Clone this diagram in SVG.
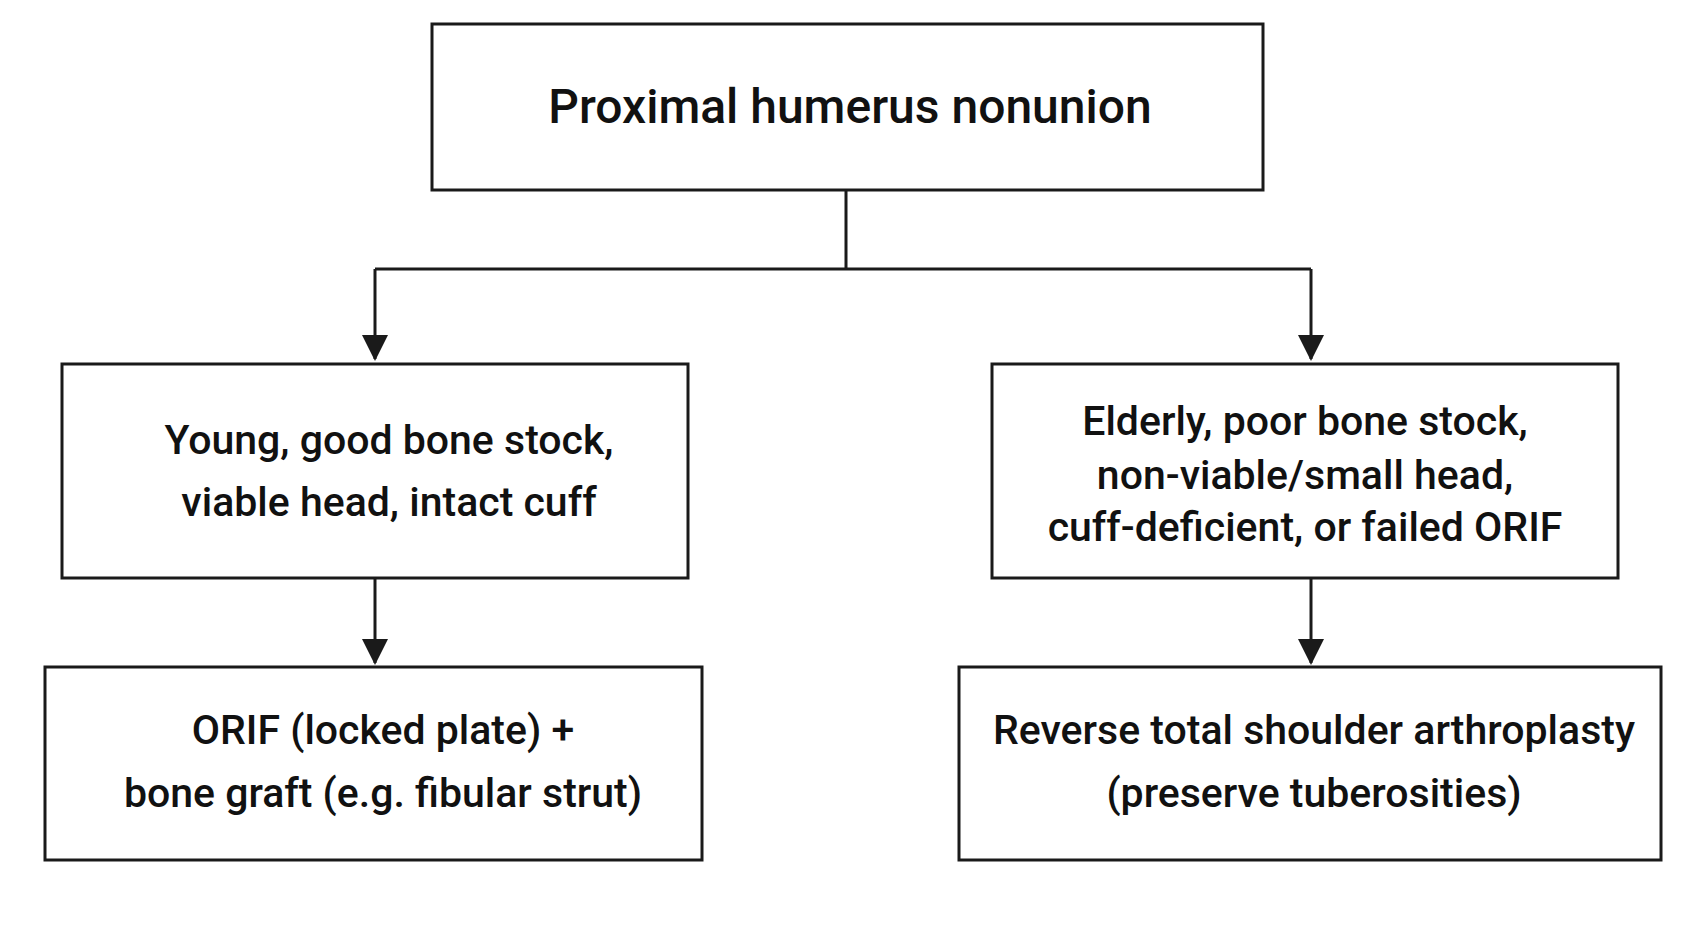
<svg xmlns="http://www.w3.org/2000/svg" width="1693" height="929" viewBox="0 0 1693 929">
<style>
rect{fill:#fff;stroke:#1a1a1a;stroke-width:3}
text{font-family:Roboto,"Liberation Sans",sans-serif;font-weight:500;fill:#111;text-anchor:middle;font-size:41px}
.t{font-size:48px}
.c{fill:none;stroke:#1a1a1a;stroke-width:3}
</style>
<defs>
<marker id="b" viewBox="0 0 26 26" refX="24" refY="13" markerWidth="26" markerHeight="26" orient="auto" markerUnits="userSpaceOnUse"><path d="M0,0 L26,13 L0,26 z" fill="#1a1a1a"/></marker></defs>
<rect width="1693" height="929" style="fill:#fff;stroke:none"/>
<g id="connectors">
<path class="c" d="M846,190 V269 M375,269 H1311"/>
<path class="c" d="M375,269 V359" marker-end="url(#b)"/>
<path class="c" d="M1311,269 V359" marker-end="url(#b)"/>
<path class="c" d="M375,578 V663" marker-end="url(#b)"/>
<path class="c" d="M1311,578 V663" marker-end="url(#b)"/>
</g>
<g id="root"><rect x="432" y="24" width="831" height="166"/><text class="t" x="850" y="123">Proximal humerus nonunion</text></g>
<g id="young"><rect x="62" y="364" width="626" height="214"/><text x="389" y="454">Young, good bone stock,</text><text x="389" y="516">viable head, intact cuff</text></g>
<g id="elderly"><rect x="992" y="364" width="626" height="214"/><text x="1305" y="435">Elderly, poor bone stock,</text><text x="1305" y="489">non-viable/small head,</text><text x="1305" y="541">cuff-deficient, or failed ORIF</text></g>
<g id="orif"><rect x="45" y="667" width="657" height="193"/><text x="383" y="744">ORIF (locked plate) +</text><text x="383" y="807">bone graft (e.g. fibular strut)</text></g>
<g id="rtsa"><rect x="959" y="667" width="702" height="193"/><text x="1314" y="744">Reverse total shoulder arthroplasty</text><text x="1314" y="807">(preserve tuberosities)</text></g>
</svg>
